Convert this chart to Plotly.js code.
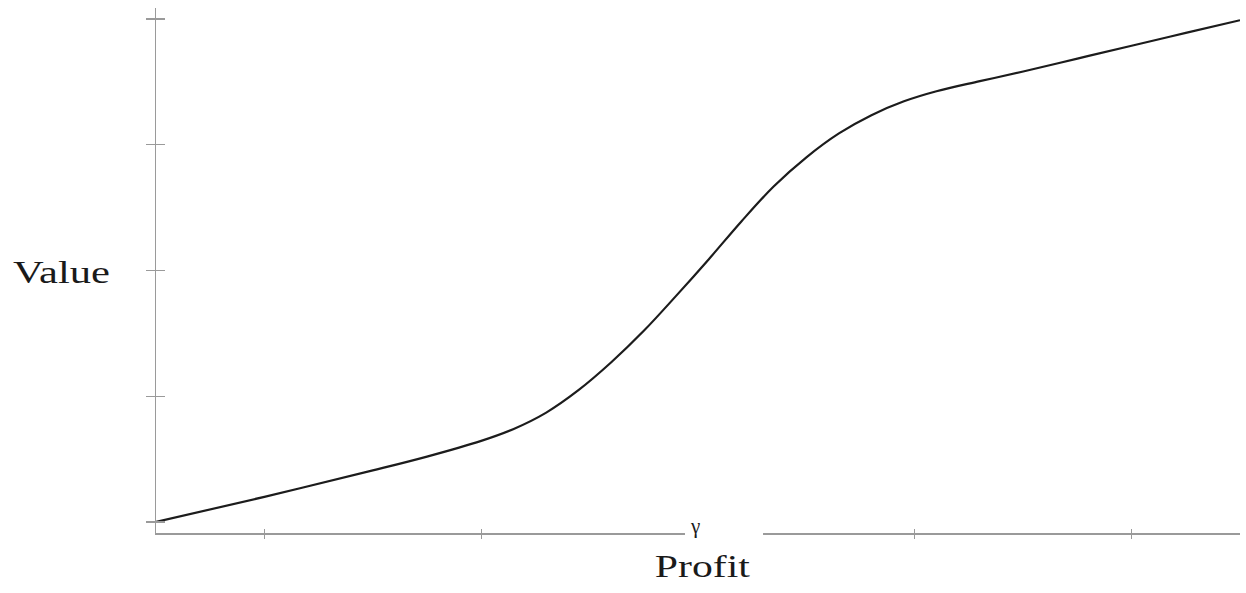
<!DOCTYPE html>
<html>
<head>
<meta charset="utf-8">
<script src="https://cdn.plot.ly/plotly-3.0.1.min.js"></script>
<style>html,body{margin:0;padding:0;background:#fff;}#chart{width:1246px;height:593px;}</style>
</head>
<body>
<div id="chart"></div>
<script>
// Profit (x) and Value (y)
const profit = [0, 1, 2, 2.5, 3, 3.3, 3.6, 3.9, 4.2, 4.5, 4.8, 5.1, 5.4, 5.7, 6.0, 6.3, 6.6, 6.9, 7.2, 7.6, 8.0, 8.5, 9.0, 9.5, 10];
const value  = [0, 0.20, 0.41, 0.52, 0.645, 0.74, 0.87, 1.05, 1.27, 1.52, 1.80, 2.09, 2.39, 2.67, 2.90, 3.09, 3.235, 3.345, 3.425, 3.505, 3.582, 3.685, 3.787, 3.889, 3.99];
const xTicks = [1, 3, 5, 7, 9];
const yTicks = [0, 1, 2, 3, 4];
const xTitle = "Profit";
const yTitle = "Value";
const gammaLabel = "γ";
const gammaAt = 4.97;

const axisColor = "#9a9a9a";
const serif = "Liberation Serif, Times New Roman, serif";

const curve = {
  x: profit, y: value, type: "scatter", mode: "lines",
  line: {color: "#1c1c1c", width: 2.2, shape: "spline", smoothing: 1},
  hoverinfo: "skip", showlegend: false
};
// invisible helper so the overlaid axes (inner half of the crossing ticks) get drawn
const helper = {
  x: profit, y: value, type: "scatter", mode: "none", xaxis: "x2", yaxis: "y2",
  hoverinfo: "skip", showlegend: false
};

const xr = [0, 10], yr = [-0.0875, 4.087];
const layout = {
  width: 1246, height: 593,
  margin: {l: 156, r: 6, t: 8, b: 60},
  paper_bgcolor: "#ffffff", plot_bgcolor: "#ffffff",
  showlegend: false,
  xaxis: {range: xr, tickmode: "array", tickvals: xTicks, showticklabels: false,
          ticks: "outside", ticklen: 4, tickwidth: 1.2, tickcolor: axisColor,
          showline: true, linecolor: axisColor, linewidth: 1.5, showgrid: false, zeroline: false, fixedrange: true},
  xaxis2: {range: xr, overlaying: "x", anchor: "y2", tickmode: "array", tickvals: xTicks, showticklabels: false,
          ticks: "inside", ticklen: 4, tickwidth: 1.2, tickcolor: axisColor,
          showline: false, showgrid: false, zeroline: false, fixedrange: true},
  yaxis: {range: yr, tickmode: "array", tickvals: yTicks, showticklabels: false,
          ticks: "outside", ticklen: 9, tickwidth: 1.2, tickcolor: axisColor,
          showline: true, linecolor: axisColor, linewidth: 1.5, showgrid: false, zeroline: false, fixedrange: true},
  yaxis2: {range: yr, overlaying: "y", anchor: "x2", tickmode: "array", tickvals: yTicks, showticklabels: false,
          ticks: "inside", ticklen: 9, tickwidth: 1.2, tickcolor: axisColor,
          showline: false, showgrid: false, zeroline: false, fixedrange: true},
  shapes: [
    {type: "rect", xref: "x", yref: "paper", x0: 4.88, x1: 5.6, y0: -0.025, y1: 0.018,
     fillcolor: "#ffffff", line: {width: 0}, layer: "above"}
  ],
  annotations: [
    {text: yTitle, xref: "paper", yref: "paper", x: -0.0872, y: 0.497, xanchor: "center", yanchor: "middle",
     showarrow: false, font: {family: serif, size: 32, color: "#1a1a1a"}},
    {text: xTitle, xref: "x", yref: "paper", x: 5.04, y: -0.063, xanchor: "center", yanchor: "middle",
     showarrow: false, font: {family: serif, size: 31, color: "#1a1a1a"}},
    {text: gammaLabel, xref: "x", yref: "paper", x: gammaAt, y: 0.0, xanchor: "center", yanchor: "bottom", yshift: -7,
     showarrow: false, font: {family: serif, size: 21, color: "#1a1a1a"}}
  ]
};

Plotly.newPlot("chart", [curve, helper], layout, {staticPlot: true, displayModeBar: false}).then(function (gd) {
  const widths = {};
  widths[yTitle] = 97; widths[xTitle] = 95;
  gd.querySelectorAll(".annotation-text").forEach(function (t) {
    const w = widths[t.textContent];
    if (w) { t.setAttribute("textLength", w); t.setAttribute("lengthAdjust", "spacingAndGlyphs"); }
  });
});
</script>
</body>
</html>
